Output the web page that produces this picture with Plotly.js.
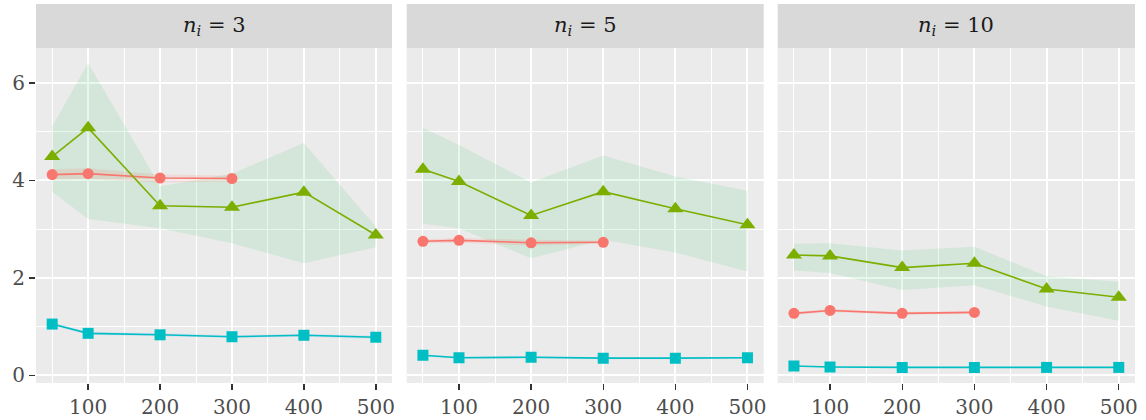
<!DOCTYPE html>
<html>
<head>
<meta charset="utf-8">
<script src="https://cdn.plot.ly/plotly-3.0.1.min.js"></script>
<style>html,body{margin:0;padding:0;background:#fff;}#chart{width:1146px;height:420px;}</style>
</head>
<body>
<div id="chart"></div>
<script>
// ---- data ----
var nVals = [50, 100, 200, 300, 400, 500];
var nRed = [50, 100, 200, 300];
var panelLabels = ['3', '5', '10'];

var green1 = [4.49, 5.08, 3.48, 3.45, 3.76, 2.88];
var greenLo1 = [3.77, 3.21, 3.02, 2.71, 2.30, 2.63];
var greenHi1 = [5.11, 6.41, 3.88, 4.14, 4.77, 3.05];
var red1 = [4.12, 4.14, 4.05, 4.04];
var redLo1 = [4.02, 4.03, 3.96, 3.98];
var redHi1 = [4.23, 4.25, 4.12, 4.10];
var cyan1 = [1.05, 0.86, 0.83, 0.79, 0.82, 0.78];
var cyanLo1 = [1.02, 0.83, 0.80, 0.77, 0.79, 0.75];
var cyanHi1 = [1.08, 0.89, 0.86, 0.82, 0.85, 0.81];

var green2 = [4.23, 3.98, 3.28, 3.77, 3.42, 3.09];
var greenLo2 = [3.11, 3.02, 2.40, 2.78, 2.52, 2.13];
var greenHi2 = [5.08, 4.73, 3.96, 4.51, 4.08, 3.79];
var red2 = [2.75, 2.77, 2.72, 2.73];
var redLo2 = [2.71, 2.72, 2.66, 2.70];
var redHi2 = [2.79, 2.82, 2.78, 2.76];
var cyan2 = [0.41, 0.36, 0.37, 0.35, 0.35, 0.36];
var cyanLo2 = [0.39, 0.34, 0.35, 0.33, 0.33, 0.34];
var cyanHi2 = [0.43, 0.38, 0.39, 0.37, 0.37, 0.38];

var green3 = [2.47, 2.45, 2.21, 2.30, 1.77, 1.60];
var greenLo3 = [2.15, 2.10, 1.75, 1.85, 1.41, 1.12];
var greenHi3 = [2.70, 2.71, 2.56, 2.64, 2.03, 1.92];
var red3 = [1.27, 1.33, 1.27, 1.29];
var redLo3 = [1.24, 1.30, 1.24, 1.26];
var redHi3 = [1.30, 1.36, 1.30, 1.32];
var cyan3 = [0.19, 0.17, 0.16, 0.16, 0.16, 0.16];
var cyanLo3 = [0.18, 0.16, 0.15, 0.15, 0.15, 0.15];
var cyanHi3 = [0.20, 0.18, 0.17, 0.17, 0.17, 0.17];

var xTicks = [100, 200, 300, 400, 500];
var yTicks = [0, 2, 4, 6];

// ---- styles ----
var RED = '#F8766D', GREEN = '#7CAE00', CYAN = '#00BFC4';
var FILL_RED = 'rgba(248,118,109,0.15)';
var FILL_GREEN = 'rgba(0,186,56,0.10)';
var FILL_CYAN = 'rgba(97,156,255,0.15)';
var FONT = 'DejaVu Serif';

var panels = [
  {g: green1, gl: greenLo1, gh: greenHi1, r: red1, rl: redLo1, rh: redHi1, c: cyan1, cl: cyanLo1, ch: cyanHi1},
  {g: green2, gl: greenLo2, gh: greenHi2, r: red2, rl: redLo2, rh: redHi2, c: cyan2, cl: cyanLo2, ch: cyanHi2},
  {g: green3, gl: greenLo3, gh: greenHi3, r: red3, rl: redLo3, rh: redHi3, c: cyan3, cl: cyanLo3, ch: cyanHi3}
];

var traces = [];
function ribbon(xs, lo, hi, fill, xa, ya) {
  traces.push({x: xs, y: lo, xaxis: xa, yaxis: ya, mode: 'lines', line: {width: 0, color: 'rgba(0,0,0,0)'}, showlegend: false, hoverinfo: 'skip'});
  traces.push({x: xs, y: hi, xaxis: xa, yaxis: ya, mode: 'lines', line: {width: 0, color: 'rgba(0,0,0,0)'}, fill: 'tonexty', fillcolor: fill, showlegend: false, hoverinfo: 'skip'});
}
function series(xs, ys, color, symbol, size, xa, ya) {
  traces.push({x: xs, y: ys, xaxis: xa, yaxis: ya, mode: 'lines+markers', line: {color: color, width: 1.6},
    marker: {color: color, symbol: symbol, size: size, line: {width: 0}}, showlegend: false});
}

panels.forEach(function (p, i) {
  var xa = i === 0 ? 'x' : 'x' + (i + 1);
  var ya = i === 0 ? 'y' : 'y' + (i + 1);
  ribbon(nVals, p.gl, p.gh, FILL_GREEN, xa, ya);
  ribbon(nRed, p.rl, p.rh, FILL_RED, xa, ya);
  ribbon(nVals, p.cl, p.ch, FILL_CYAN, xa, ya);
  series(nRed, p.r, RED, 'circle', 11, xa, ya);
  series(nVals, p.g, GREEN, 'triangle-up', 14, xa, ya);
  series(nVals, p.c, CYAN, 'square', 11, xa, ya);
});

var W = 1146, H = 420;
var mL = 36, mR = 11, mT = 4, mB = 37;
var pw = W - mL - mR, ph = H - mT - mB;
var stripH = 44;
var yTop = (ph - stripH) / ph;
var doms = [[0, 356 / pw], [370.7 / pw, 727.7 / pw], [741.7 / pw, 1]];

var layout = {
  width: W, height: H,
  margin: {l: mL, r: mR, t: mT, b: mB, pad: 0},
  paper_bgcolor: '#FFFFFF',
  plot_bgcolor: '#EBEBEB',
  font: {family: FONT, size: 20, color: '#4D4D4D'},
  showlegend: false,
  shapes: [],
  annotations: []
};

doms.forEach(function (d, i) {
  var sfx = i === 0 ? '' : String(i + 1);
  layout['xaxis' + sfx] = {
    domain: d, anchor: 'y' + sfx, range: [27.5, 522.5],
    tickmode: 'array', tickvals: xTicks, ticktext: xTicks.map(String),
    ticks: 'outside', ticklen: 6, tickwidth: 1.4, tickcolor: '#333333',
    showgrid: true, gridcolor: '#FFFFFF', gridwidth: 2,
    minor: {dtick: 50, tick0: 0, showgrid: true, gridcolor: '#FFFFFF', gridwidth: 1, ticks: ''},
    zeroline: false, showline: false, fixedrange: true,
    tickfont: {family: FONT, size: 20, color: '#4D4D4D'}
  };
  layout['yaxis' + sfx] = {
    domain: [0, yTop], anchor: 'x' + sfx, range: [-0.16, 6.72],
    tickmode: 'array', tickvals: yTicks, ticktext: yTicks.map(String),
    showticklabels: i === 0, ticks: i === 0 ? 'outside' : '', ticklen: 6, tickwidth: 1.4, tickcolor: '#333333',
    showgrid: true, gridcolor: '#FFFFFF', gridwidth: 2,
    minor: {dtick: 1, tick0: 0, showgrid: true, gridcolor: '#FFFFFF', gridwidth: 1, ticks: ''},
    zeroline: false, showline: false, fixedrange: true,
    tickfont: {family: FONT, size: 20, color: '#4D4D4D'}
  };
  layout.shapes.push({type: 'rect', xref: 'paper', yref: 'paper', x0: d[0], x1: d[1], y0: yTop, y1: 1,
    fillcolor: '#D9D9D9', line: {width: 0}, layer: 'below'});
  layout.annotations.push({xref: 'paper', yref: 'paper', x: (d[0] + d[1]) / 2, y: (yTop + 1) / 2,
    xanchor: 'center', yanchor: 'middle', showarrow: false,
    text: '<i>n</i><sub><i>i</i></sub> = ' + panelLabels[i],
    font: {family: FONT, size: 21, color: '#1A1A1A'}});
});

Plotly.newPlot('chart', traces, layout, {staticPlot: true, displayModeBar: false});
</script>
</body>
</html>
